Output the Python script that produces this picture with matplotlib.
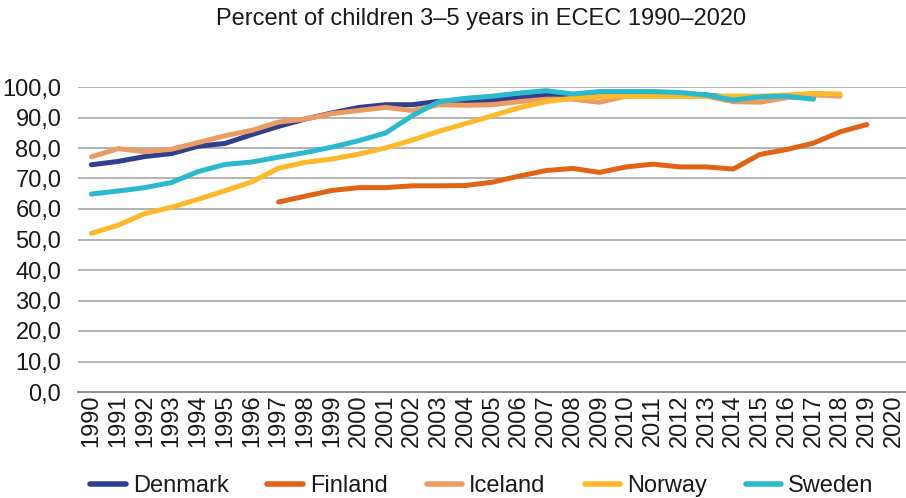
import numpy as np
import matplotlib
matplotlib.use("Agg")
import matplotlib.pyplot as plt
from matplotlib.ticker import FuncFormatter

plt.rcParams['font.family'] = ['Liberation Sans', 'DejaVu Sans']

years = [str(y) for y in range(1990, 2021)]

# enrolment rates (%), first value is the first year with data
denmark = [74.5, 75.6, 77.2, 78.2, 80.6, 81.5, 84.4, 87.1, 89.5, 91.5, 93.3, 94.2,
           94.2, 95.3, 95.2, 95.7, 96.5, 97.3, 97.0, 97.5, 97.5, 97.5, 97.5, 97.4,
           96.5, 96.8, 96.8, 96.5]
finland = [62.3, 64.2, 66.1, 67.0, 67.0, 67.6, 67.6, 67.7, 68.8, 70.8, 72.6, 73.3,
           72.0, 73.8, 74.7, 73.8, 73.8, 73.1, 77.9, 79.5, 81.6, 85.3, 87.7]
iceland = [77.1, 79.8, 78.8, 79.6, 81.8, 84.0, 85.8, 88.5, 89.5, 91.3, 92.3, 93.3,
           92.3, 94.2, 94.0, 94.2, 95.2, 96.0, 96.0, 95.0, 97.0, 97.0, 97.0, 97.0,
           95.2, 95.0, 96.5, 97.4, 97.0]
norway = [52.0, 54.7, 58.5, 60.6, 63.2, 66.0, 68.9, 73.4, 75.3, 76.4, 78.0, 80.0,
          82.6, 85.5, 88.0, 90.6, 93.2, 95.2, 96.3, 96.9, 97.0, 97.0, 97.0, 97.0,
          97.0, 97.0, 97.4, 97.9, 97.7]
sweden = [64.9, 65.9, 67.0, 68.7, 72.3, 74.6, 75.4, 77.0, 78.5, 80.3, 82.4, 84.9,
          90.6, 95.2, 96.3, 97.0, 98.0, 98.8, 97.7, 98.5, 98.5, 98.5, 98.2, 97.4,
          95.7, 96.8, 97.0, 96.0]

series = [
    ("Denmark", 1990, denmark, "#2f3f8c"),
    ("Finland", 1997, finland, "#e06414"),
    ("Iceland", 1990, iceland, "#eb9c64"),
    ("Norway", 1990, norway, "#fdb92a"),
    ("Sweden", 1990, sweden, "#2bb9cd"),
]


def pad(start, vals):
    out = np.full(len(years), np.nan)
    i0 = start - 1990
    out[i0:i0 + len(vals)] = vals
    return out


fig = plt.figure(figsize=(9.06, 4.98), dpi=100)
ax = fig.add_axes([78 / 906, 106 / 498, 829 / 906, 305 / 498])

x = np.arange(len(years))
for name, start, vals, col in series:
    ax.plot(x, pad(start, vals), color=col, lw=3.6, label=name,
            solid_capstyle='round', solid_joinstyle='round')

ax.set_xlim(-0.5, len(years) - 0.5)
ax.set_ylim(0, 100)
ax.set_yticks(np.arange(0, 101, 10))
ax.yaxis.set_major_formatter(FuncFormatter(lambda v, p: f"{v:.1f}".replace(".", ",")))
ax.set_xticks(x)
ax.set_xticklabels(years, rotation=90)
ax.tick_params(axis='both', length=0, labelsize=17, colors='#1a1a1a')
ax.tick_params(axis='x', pad=2)
ax.tick_params(axis='y', pad=12)

ax.grid(axis='y', color='#a6a6a6', lw=1.2)
ax.set_axisbelow(True)
for s in ['top', 'right', 'left']:
    ax.spines[s].set_visible(False)
ax.spines['bottom'].set_color('#8c8c8c')
ax.spines['bottom'].set_linewidth(1.4)

fig.text(0.531, 1 - 19 / 498, "Percent of children 3\u20135 years in ECEC 1990\u20132020",
         ha='center', va='center', fontsize=17, color='#1a1a1a')

leg = fig.legend(loc='center', bbox_to_anchor=(0.532, 0.024), ncol=5, frameon=False,
                 fontsize=17, handlelength=1.5, handletextpad=0.3,
                 columnspacing=1.65)
for line in leg.get_lines():
    line.set_linewidth(4)
for t in leg.get_texts():
    t.set_color('#1a1a1a')

fig.savefig("out.png", dpi=100)
